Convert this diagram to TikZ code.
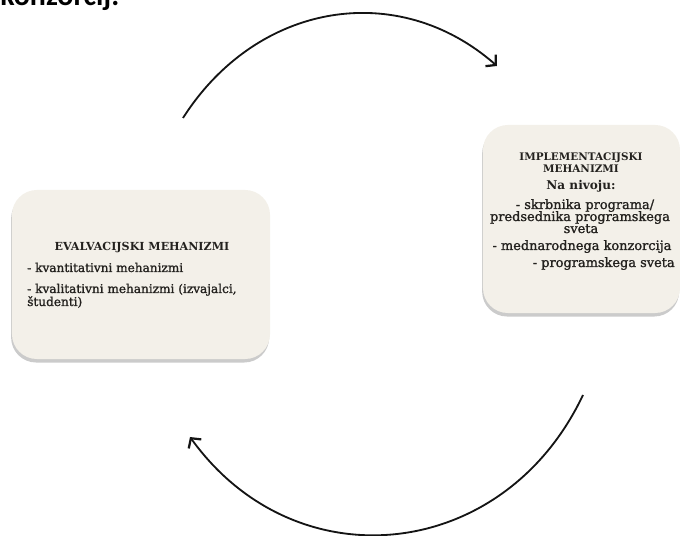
\documentclass[tikz,border=0pt]{standalone}
\usepackage{fontspec}
\setmainfont{DejaVu Serif}
\newfontfamily\headfont{Carlito}
\newfontfamily\itemfont[FakeBold=1.3]{DejaVu Serif}
\usetikzlibrary{arrows.meta}
\usetikzlibrary{shadows}
\definecolor{panelfill}{RGB}{243,240,233}
\definecolor{inkline}{RGB}{20,20,20}
\definecolor{inktext}{RGB}{35,33,30}

\begin{document}
\begin{tikzpicture}[x=0.025cm, y=-0.025cm,
    panel/.style = {rectangle, rounded corners=0.625cm, fill=panelfill,
        drop shadow={shadow xshift=-0.6pt, shadow yshift=-2.5pt, fill=black!45, opacity=.45}},
    title/.style = {font=\fontsize{7.9}{9}\selectfont\bfseries, text=inktext, inner sep=0pt},
    item/.style = {font=\itemfont\fontsize{8.6}{9}\selectfont, text=inktext, inner sep=0pt},
    bigitem/.style = {font=\itemfont\fontsize{9.2}{9}\selectfont, text=inktext, inner sep=0pt},
    cycle/.style = {draw=inkline, line width=1.3pt, -{Straight Barb[length=5pt, width=11pt, line width=1.6pt]}}]

    \useasboundingbox (0,0) rectangle (680,536);

    % cut-off line of the page above
    \node[anchor=base west, inner sep=0pt, font=\headfont\fontsize{21.3}{24}\selectfont\bfseries] (pagetext) at (0,6) {konzorcij.};

    % Boxes
    \node[panel, minimum width=6.45cm, minimum height=4.225cm] (evalbox) at (141,274.5) {};
    \node[panel, minimum width=4.925cm, minimum height=4.7cm] (implbox) at (581.5,219) {};

    % Texts in the left box
    \node[title, anchor=base] (evaltitle) at (142,251) {EVALVACIJSKI MEHANIZMI};
    \node[item, anchor=base west] (evalA) at (27,272) {- kvantitativni mehanizmi};
    \node[item, anchor=base west] (evalB) at (27,293) {- kvalitativni mehanizmi (izvajalci,};
    \node[item, anchor=base west] (evalC) at (27,306) {študenti)};

    % Texts in the right box
    \node[title, anchor=base, font=\fontsize{7.4}{9}\selectfont\bfseries] (impltitle) at (581,161) {IMPLEMENTACIJSKI};
    \node[title, anchor=base, font=\fontsize{7.4}{9}\selectfont\bfseries] (impltitleb) at (581,173) {MEHANIZMI};
    \node[title, anchor=base, font=\fontsize{8.6}{9}\selectfont\bfseries] (levels) at (581,190) {Na nivoju:};
    \node[bigitem, anchor=base] (implA) at (585,209) {- skrbnika programa/};
    \node[bigitem, anchor=base] (implB) at (580,221) {predsednika programskega};
    \node[bigitem, anchor=base] (implC) at (581,233) {sveta};
    \node[bigitem, anchor=base] (implD) at (582,250) {- mednarodnega konzorcija};
    \node[bigitem, anchor=base east] (implE) at (675,267) {- programskega sveta};

    % Arrow ends
    \coordinate (topstart) at (183,118);
    \coordinate (topend) at (497,66);
    \coordinate (botstart) at (583,395);
    \coordinate (botend) at (190,437);

    % Edges
    \draw[cycle] (topstart) .. controls (257,2) and (398,-21) .. (topend);
    \draw[cycle] (botstart) .. controls (504,562) and (296,584) .. (botend);

\end{tikzpicture}
\end{document}
